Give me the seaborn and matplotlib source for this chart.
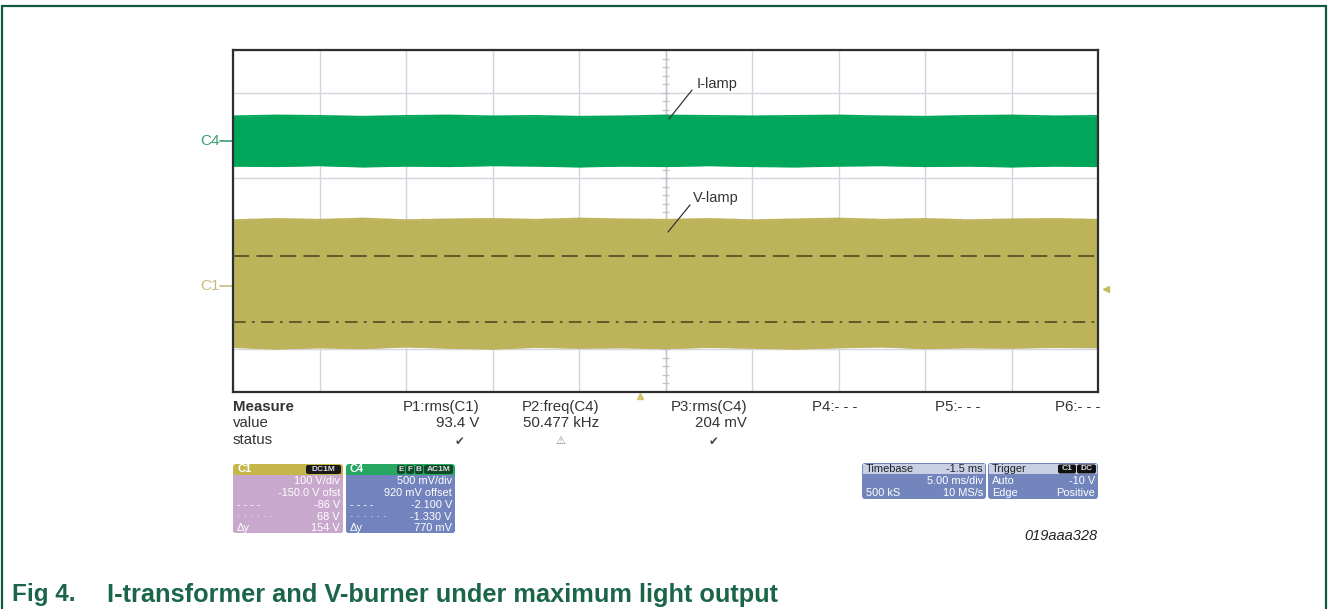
import numpy as np
import pandas as pd
import matplotlib
matplotlib.use("Agg")
import matplotlib.pyplot as plt
import seaborn as sns
from matplotlib.patches import FancyBboxPatch, Rectangle
from matplotlib.lines import Line2D
from matplotlib.transforms import IdentityTransform, blended_transform_factory

sns.set_theme(style="white")
plt.rcParams['font.family'] = ['Liberation Sans', 'DejaVu Sans']

# ---------------- data (screen divisions) ----------------
div_x = [0.0, 0.5, 1.0, 1.5, 2.0, 2.5, 3.0, 3.5, 4.0, 4.5, 5.0,
         5.5, 6.0, 6.5, 7.0, 7.5, 8.0, 8.5, 9.0, 9.5, 10.0]
c4_top = [2.45, 2.47, 2.46, 2.44, 2.46, 2.47, 2.45, 2.46, 2.44, 2.45, 2.47,
          2.46, 2.45, 2.46, 2.47, 2.45, 2.44, 2.46, 2.47, 2.45, 2.46]
c4_bot = [1.29, 1.28, 1.30, 1.27, 1.29, 1.28, 1.30, 1.29, 1.27, 1.29, 1.28,
          1.30, 1.28, 1.27, 1.29, 1.30, 1.28, 1.29, 1.27, 1.29, 1.28]
c1_top = [0.02, 0.05, 0.03, 0.06, 0.02, 0.04, 0.05, 0.03, 0.06, 0.04, 0.03,
          0.05, 0.02, 0.04, 0.06, 0.03, 0.05, 0.02, 0.04, 0.05, 0.03]
c1_bot = [-2.95, -2.99, -2.96, -2.98, -2.94, -2.97, -2.99, -2.95, -2.97, -2.96, -2.98,
          -2.95, -2.97, -2.99, -2.96, -2.94, -2.98, -2.96, -2.97, -2.95, -2.96]
c4_offset = 1.87
c1_offset = -1.52
cursor_dash = -0.82
cursor_dashdot = -2.36
trigger_level = -1.59
trigger_pos = 4.7

measure_names = ["P1:rms(C1)", "P2:freq(C4)", "P3:rms(C4)", "P4:- - -", "P5:- - -", "P6:- - -"]
measure_values = ["93.4 V", "50.477 kHz", "204 mV", "", "", ""]

c1_rows = [("", "100 V/div"), ("", "-150.0 V ofst"), ("- - - -", "-86 V"), ("· · · · · ·", "68 V"), ("Δy", "154 V")]
c4_rows = [("", "500 mV/div"), ("", "920 mV offset"), ("- - - -", "-2.100 V"), ("· · · · · ·", "-1.330 V"), ("Δy", "770 mV")]
tb_rows = [("", "5.00 ms/div"), ("500 kS", "10 MS/s")]
trig_rows = [("Auto", "-10 V"), ("Edge", "Positive")]

# ---------------- figure ----------------
W, H = 1328, 609
fig = plt.figure(figsize=(W / 100, H / 100), dpi=100)
fig.patch.set_facecolor("white")
ID = IdentityTransform()


def fx(x):
    return x / W


def fy(y):
    return 1 - y / H


def ftext(x, y, s, **kw):
    return fig.text(fx(x), fy(y), s, **kw)


# outer frame
frame_col = "#0f5a40"
for xs, ys in [((2, 1326), (6, 6)), ((2, 2), (6, 620)), ((1326, 1326), (6, 620))]:
    fig.add_artist(Line2D([fx(xs[0]), fx(xs[1])], [fy(ys[0]), fy(ys[1])],
                          color=frame_col, lw=1.6, transform=fig.transFigure))

ax = fig.add_axes([fx(233), fy(392), 865 / W, 342 / H])
ax.set_xlim(0, 10)
ax.set_ylim(-4, 4)
ax.set_xticks(range(11))
ax.set_yticks(range(-4, 5))
ax.grid(True, color="#d5d5dd", lw=1.0)
ax.set_axisbelow(True)
ax.tick_params(length=0, labelbottom=False, labelleft=False)
for sp in ax.spines.values():
    sp.set_color("#2e2e2e")
    sp.set_linewidth(1.6)

# centre crosshair ticks
ax.axvline(5, color="#c4c4cc", lw=1.0, zorder=0.6)
ax.axhline(0, color="#c4c4cc", lw=1.0, zorder=0.6)
ticks_y = np.arange(-4, 4.001, 0.2)
ax.hlines(ticks_y, 5 - 0.04, 5 + 0.04, color="#c4c4cc", lw=0.9, zorder=0.6)
ticks_x = np.arange(0, 10.001, 0.2)
ax.vlines(ticks_x, -0.08, 0.08, color="#c4c4cc", lw=0.9, zorder=0.6)

green = "#00a75a"
olive = "#bdb35b"
ax.fill_between(div_x, c4_bot, c4_top, color=green, lw=0, zorder=2)
sns.lineplot(x=div_x, y=c4_top, ax=ax, color=green, lw=1.2, zorder=2)
sns.lineplot(x=div_x, y=c4_bot, ax=ax, color=green, lw=1.2, zorder=2)
ax.fill_between(div_x, c1_bot, c1_top, color=olive, lw=0, zorder=2)
sns.lineplot(x=div_x, y=c1_top, ax=ax, color=olive, lw=1.2, zorder=2)
sns.lineplot(x=div_x, y=c1_bot, ax=ax, color=olive, lw=1.2, zorder=2)

ax.axhline(cursor_dash, color="#5b5226", lw=1.3, ls=(0, (9, 4)), zorder=3)
ax.axhline(cursor_dashdot, color="#5b5226", lw=1.3, ls=(0, (7, 3.5, 1.5, 3.5)), zorder=3)
ax.set_xlim(0, 10)
ax.set_ylim(-4, 4)

# channel markers
bl = blended_transform_factory(ax.transAxes, ax.transData)
ax.plot([-0.015, 0], [c4_offset, c4_offset], color="#3a9f70", lw=1.2, transform=bl, clip_on=False)
ax.text(-0.015, c4_offset, "C4", color="#3a9f70", fontsize=11, ha="right", va="center", transform=bl)
ax.plot([-0.015, 0], [c1_offset, c1_offset], color="#c6bb82", lw=1.2, transform=bl, clip_on=False)
ax.text(-0.015, c1_offset, "C1", color="#c6bb82", fontsize=11, ha="right", va="center", transform=bl)
ax.plot([1.009], [trigger_level], marker="<", ms=5, color="#c8bb62", transform=bl, clip_on=False, lw=0)
bl2 = blended_transform_factory(ax.transData, ax.transAxes)
ax.plot([trigger_pos], [-0.013], marker="^", ms=5, color="#d4c46e", transform=bl2, clip_on=False, lw=0)

# annotations
fig.add_artist(Line2D([fx(669), fx(692)], [fy(119), fy(90)], color="#333333", lw=0.9))
ftext(697, 84, "I-lamp", fontsize=10.5, color="#333333", ha="left", va="center")
fig.add_artist(Line2D([fx(668), fx(690)], [fy(232), fy(205)], color="#333333", lw=0.9))
ftext(693, 198, "V-lamp", fontsize=10.5, color="#333333", ha="left", va="center")

# measure table
tcol = "#333333"
fs_m = 10.8
ftext(233, 407, "Measure", fontsize=fs_m, fontweight="bold", color=tcol, va="center")
ftext(233, 423, "value", fontsize=fs_m, color=tcol, va="center")
ftext(233, 440, "status", fontsize=fs_m, color=tcol, va="center")
col_spec = [(479, "right"), (561, "center"), (747, "right"), (812, "left"), (935, "left"), (1100, "right")]
for (x, ha), name, val in zip(col_spec, measure_names, measure_values):
    ftext(x, 407, name, fontsize=fs_m, color=tcol, ha=ha, va="center")
    if val:
        ftext(x, 423, val, fontsize=fs_m, color=tcol, ha=ha, va="center")
for x in (460, 714):
    ftext(x, 441, "✔", fontsize=8.5, color="#4a4a4a", ha="center", va="center", family="DejaVu Sans")
ftext(560, 441, "⚠", fontsize=8, color="#888888", ha="center", va="center", family="DejaVu Sans")


# info boxes
def rbox(x0, y0, x1, y1, color, r=3, z=5):
    p = FancyBboxPatch((x0, H - y1), x1 - x0, y1 - y0,
                       boxstyle=f"round,pad=0,rounding_size={r}",
                       transform=ID, facecolor=color, edgecolor="none", zorder=z)
    fig.add_artist(p)


def sbox(x0, y0, x1, y1, color, z=6):
    p = Rectangle((x0, H - y1), x1 - x0, y1 - y0, transform=ID,
                  facecolor=color, edgecolor="none", zorder=z)
    fig.add_artist(p)


def badge(x0, x1, yc, label, color, tcolor="#dddddd"):
    rbox(x0, yc - 4.5, x1, yc + 4.5, color, r=2, z=8)
    ftext((x0 + x1) / 2, yc, label, fontsize=6, color=tcolor, ha="center", va="center",
          fontweight="bold", zorder=9)


fsb = 7.9


def channel_box(x0, x1, y0, y1, hcol, bcol, title, rows):
    rbox(x0, y0, x1, y1, hcol)
    rbox(x0, y0 + 11, x1, y1, bcol, z=6)
    sbox(x0, y0 + 11, x1, y0 + 16, bcol, z=6)
    ftext(x0 + 4, y0 + 5.5, title, fontsize=fsb, color="white", va="center", fontweight="bold", zorder=9)
    ys = [481, 493.5, 505.5, 517, 528]
    for (l, r), y in zip(rows, ys):
        if l:
            ftext(x0 + 4, y, l, fontsize=fsb, color="white", va="center", zorder=9)
        ftext(x1 - 3, y, r, fontsize=fsb, color="white", ha="right", va="center", zorder=9)


channel_box(233, 343, 464, 533, "#c5b64a", "#c9a8cd", "C1", c1_rows)
badge(306, 341, 469.5, "DC1M", "#1a1a1a")
channel_box(346, 455, 464, 533, "#27a862", "#7283bd", "C4", c4_rows)
badge(397, 405, 469.5, "E", "#114a2a")
badge(406, 414, 469.5, "F", "#114a2a")
badge(415, 423, 469.5, "B", "#114a2a")
badge(424, 453, 469.5, "AC1M", "#114a2a")


def info_box(x0, x1, y0, y1, title, right, rows):
    rbox(x0, y0, x1, y1, "#7286bd")
    sbox(x0 + 1, y0 + 1, x1 - 1, y0 + 11, "#c9d0e6", z=6)
    ftext(x0 + 4, y0 + 6, title, fontsize=fsb, color="#222222", va="center", zorder=9)
    if right:
        ftext(x1 - 3, y0 + 6, right, fontsize=fsb, color="#222222", ha="right", va="center", zorder=9)
    ys = [y0 + 18, y0 + 30]
    for (l, r), y in zip(rows, ys):
        if l:
            ftext(x0 + 4, y, l, fontsize=fsb, color="white", va="center", zorder=9)
        ftext(x1 - 3, y, r, fontsize=fsb, color="white", ha="right", va="center", zorder=9)


info_box(862, 986, 463, 499, "Timebase", "-1.5 ms", tb_rows)
info_box(988, 1098, 463, 499, "Trigger", "", trig_rows)
badge(1058, 1076, 469, "C1", "#111111")
badge(1077, 1096, 469, "DC", "#111111")

ftext(1097, 536, "019aaa328", fontsize=10.5, style="italic", color="#222222", ha="right", va="center")

cap_col = "#1b6548"
ftext(12, 595, "Fig 4.", fontsize=17.5, fontweight="bold", color=cap_col, va="center")
ftext(107, 595, "I-transformer and V-burner under maximum light output", fontsize=18.3,
      fontweight="bold", color=cap_col, va="center")

fig.savefig("out.png", dpi=100)
